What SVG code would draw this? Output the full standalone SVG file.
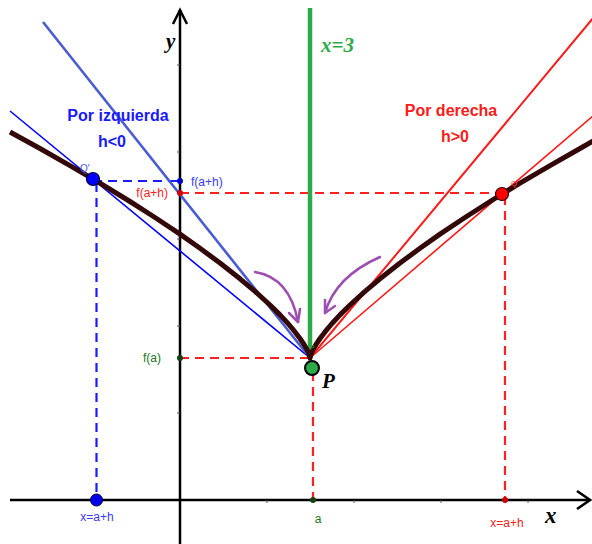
<svg xmlns="http://www.w3.org/2000/svg" width="592" height="544" viewBox="0 0 592 544">
<style>
.ax{stroke:#000;stroke-width:2.5;fill:none}
.tick{stroke:#555;stroke-width:1}
.dr{stroke:#ff2020;stroke-width:2.2;stroke-dasharray:9 6;fill:none}
.db{stroke:#1a1aff;stroke-width:2.2;stroke-dasharray:9 6;fill:none}
.sm{font-family:"Liberation Sans",Arial,sans-serif;font-size:12px}
.big{font-family:"Liberation Sans",Arial,sans-serif;font-size:16px;font-weight:bold}
.math{font-family:"Liberation Serif","Times New Roman",serif;font-style:italic;font-weight:bold}
.pur{stroke:#9c4fb0;stroke-width:2.5;fill:none;stroke-linecap:round;stroke-linejoin:round}
</style>
<rect width="592" height="544" fill="#fff"/>
<g id="axes">
<line class="ax" x1="180" y1="544" x2="180" y2="10"/>
<polyline class="ax" points="173,24 180,10 187,24"/>
<line class="ax" x1="10" y1="500" x2="590" y2="500"/>
<polyline class="ax" points="577,491 590,500 577,509"/>
<g class="tick">
<line x1="177" y1="65" x2="180" y2="65"/><line x1="177" y1="152" x2="180" y2="152"/><line x1="177" y1="239" x2="180" y2="239"/><line x1="177" y1="326" x2="180" y2="326"/><line x1="177" y1="413" x2="180" y2="413"/>
<line x1="267" y1="500" x2="267" y2="503"/><line x1="354" y1="500" x2="354" y2="503"/><line x1="441" y1="500" x2="441" y2="503"/><line x1="528" y1="500" x2="528" y2="503"/>
</g>
<text class="math" x="166" y="48" font-size="21" font-weight="normal">y</text>
<text class="math" x="545" y="523" font-size="23">x</text>
</g>
<g id="connectors">
<line class="db" x1="93" y1="181" x2="180" y2="181"/>
<line class="db" x1="96.5" y1="183" x2="96.5" y2="500"/>
<line class="dr" x1="180" y1="193" x2="502" y2="193"/>
<line class="dr" x1="505" y1="196" x2="505" y2="500"/>
<line class="dr" x1="180" y1="358" x2="310" y2="358"/>
<line class="dr" x1="313" y1="372" x2="313" y2="500"/>
<line x1="310" y1="8" x2="310" y2="358" stroke="#2eaa4a" stroke-width="4.5"/>
<line x1="10" y1="111" x2="310" y2="358" stroke="#0000ff" stroke-width="1.6"/>
<line x1="43" y1="22" x2="310" y2="358" stroke="#4a5cd0" stroke-width="2.6"/>
<line x1="310" y1="358" x2="594" y2="17" stroke="#ff1a1a" stroke-width="2"/>
<line x1="310" y1="358" x2="594" y2="115" stroke="#ff1a1a" stroke-width="1.6"/>
<path d="M10,132 L40,148.5 L70,165.6 L100,183.2 L130,201.5 L155,217.5 L180,234.1 L200,248.3 L220,263 L240,278.8 L255,291.4 L270,305 L280,314.9 L288,323.5 L295,331.9 L300,338.5 L304,344.5 L307,349.8 L309,354.3 L310,358 L311,354.3 L313,349.8 L316,344.5 L320,338.5 L325,331.9 L332,323.5 L340,314.9 L350,305 L365,291.4 L380,278.8 L400,263 L420,248.3 L440,234.1 L465,217.5 L490,201.5 L520,183.2 L550,165.6 L580,148.5 L595,140" fill="none" stroke="#330808" stroke-width="5" stroke-linejoin="round"/>
<path class="pur" d="M255,272 C280,276 293,295 298,322"/>
<polyline class="pur" points="289,313 298,322 300,309"/>
<path class="pur" d="M380,257 C355,268 333,285 325,313"/>
<polyline class="pur" points="325,300 325,313 335,306"/>
</g>
<g id="Qprime">
<circle cx="93" cy="179" r="6.5" fill="#0000ff" stroke="#000033" stroke-width="1.2"/>
<text x="80" y="172" font-family="Liberation Sans,Arial,sans-serif" font-size="10" fill="#4455ee">Q'</text>
</g>
<g id="Q">
<circle cx="502" cy="194" r="6.5" fill="#ff0000" stroke="#330000" stroke-width="1.2"/>
<text x="511" y="186" font-family="Liberation Sans,Arial,sans-serif" font-size="8" fill="#ff4444">Q</text>
</g>
<g id="P">
<circle cx="312" cy="368" r="7" fill="#2eaa4a" stroke="#000" stroke-width="2"/>
<text x="310" y="350" font-family="Liberation Sans,Arial,sans-serif" font-size="7" fill="#2eaa4a">P</text>
<text class="math" x="322" y="388" font-size="21">P</text>
</g>
<g id="labels">
<circle cx="180" cy="181" r="3" fill="#0000cc"/>
<text class="sm" x="191" y="186" fill="#3a3aee">f(a+h)</text>
<circle cx="180" cy="193" r="3" fill="#cc0000"/>
<text class="sm" x="168" y="197" fill="#ff2020" text-anchor="end">f(a+h)</text>
<circle cx="180" cy="358" r="3" fill="#114411"/>
<text class="sm" x="161" y="362" fill="#227722" text-anchor="end">f(a)</text>
<circle cx="96.5" cy="500" r="6" fill="#0000ee" stroke="#000033" stroke-width="1"/>
<text class="sm" x="97" y="521" fill="#3a3aee" text-anchor="middle">x=a+h</text>
<circle cx="313" cy="500" r="3" fill="#114411"/>
<text class="sm" x="318" y="523" fill="#227722" text-anchor="middle">a</text>
<circle cx="505" cy="500" r="3" fill="#cc0000"/>
<text class="sm" x="507" y="527" fill="#ff2020" text-anchor="middle">x=a+h</text>
<text class="math" x="321" y="52" font-size="21" fill="#2eaa4a">x=3</text>
<text class="big" x="118" y="121" fill="#1a1aff" text-anchor="middle">Por izquierda</text>
<text class="big" x="112" y="147" fill="#1a1aff" text-anchor="middle">h&lt;0</text>
<text class="big" x="451" y="116" fill="#ff1a1a" text-anchor="middle">Por derecha</text>
<text class="big" x="455" y="142" fill="#ff1a1a" text-anchor="middle">h&gt;0</text>
</g>
</svg>
